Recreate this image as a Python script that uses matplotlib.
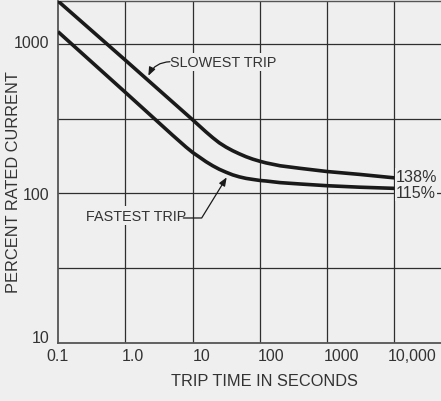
import numpy as np
import matplotlib
matplotlib.use("Agg")
import matplotlib.pyplot as plt
from matplotlib.transforms import ScaledTranslation

# ---- data ----
slowest_t = [0.1, 1, 10, 12.6, 15.8, 19.9, 24.9, 31.4, 39.4, 49.4, 62.1, 78.2, 100,
             123, 200, 400, 1000, 3000, 10000]
slowest_pct = [1940, 780, 311, 283, 258, 236, 218, 204, 193, 184, 176, 169.5, 164,
               160, 153, 147, 140, 134, 127]
fastest_t = [0.1, 1, 5, 8, 10, 12.6, 15.8, 19.9, 24.9, 31.4, 39.4, 49.4, 62.1, 78.2,
             100, 123, 200, 400, 1000, 3000, 10000]
fastest_pct = [1209, 475, 246, 204, 188, 175, 163, 153, 145, 138.5, 133, 129, 126, 124,
               122, 121, 118, 115.5, 112.5, 110, 108]

xtick_vals = [0.1, 1, 10, 100, 1000, 10000]
xtick_labels = ["0.1", "1.0", "10", "100", "1000", "10,000"]
ytick_vals = [10, 100, 1000]
ytick_labels = ["10", "100", "1000"]
ygrid_minor = [10 ** 1.5, 10 ** 2.5]
end_labels = ["138%", "115%"]
end_label_y = [130, 101.6]

# ---- style ----
BG = "#efefef"
GRID = "#2e2e2e"
CURVE = "#1a1a1a"
TXT = "#333333"
FONT = ["Liberation Sans", "DejaVu Sans"]
plt.rcParams["font.family"] = FONT

W, H = 441, 402
fig = plt.figure(figsize=(W / 100, H / 100), dpi=100, facecolor=BG)
left_px, right_px, top_px, bot_px = 58, 441, 2, 343.7
ax = fig.add_axes([left_px / W, 1 - bot_px / H, (right_px - left_px) / W, (bot_px - top_px) / H])
ax.set_facecolor(BG)
ax.set_xscale("log")
ax.set_yscale("log")
ax.set_xlim(0.1, 49100)
ax.set_ylim(10, 1941)

# grid lines
for xv in xtick_vals[1:]:
    ax.axvline(xv, color=GRID, lw=0.9, zorder=1)
for yv in ytick_vals[1:] + ygrid_minor:
    ax.axhline(yv, color=GRID, lw=0.9, zorder=1)

ax.set_xticks([])
ax.set_yticks([])
ax.xaxis.set_minor_locator(matplotlib.ticker.NullLocator())
ax.yaxis.set_minor_locator(matplotlib.ticker.NullLocator())
for s in ["left", "bottom"]:
    ax.spines[s].set_color("#555555")
    ax.spines[s].set_linewidth(1.3)
ax.spines["top"].set_color("#555555")
ax.spines["top"].set_linewidth(1.0)
ax.spines["right"].set_visible(False)

# curves
ax.plot(slowest_t, slowest_pct, color=CURVE, lw=2.6, solid_joinstyle="round",
        solid_capstyle="butt", zorder=3)
ax.plot(fastest_t, fastest_pct, color=CURVE, lw=2.6, solid_joinstyle="round",
        solid_capstyle="butt", zorder=3)

# tick labels (manual, to reproduce the offsets of the reference)
xoff_px = [-0.7, 8, 8.7, 10.7, 14, 17.3]
xtrans = ax.get_xaxis_transform()
for xv, lab, dx in zip(xtick_vals, xtick_labels, xoff_px):
    tr = xtrans + ScaledTranslation(dx / 100, -13 / 100, fig.dpi_scale_trans)
    ax.text(xv, 0, lab, transform=tr, ha="center", va="center", fontsize=11.5,
            color=TXT, clip_on=False)
yoff_px = [4.7, -0.7, 1.7]
ytrans = ax.get_yaxis_transform()
for yv, lab, dy in zip(ytick_vals, ytick_labels, yoff_px):
    tr = ytrans + ScaledTranslation(-8.5 / 100, dy / 100, fig.dpi_scale_trans)
    ax.text(0, yv, lab, transform=tr, ha="right", va="center", fontsize=11.5,
            color=TXT, clip_on=False)

fig.text(264.7 / W, 1 - 381.7 / H, "TRIP TIME IN SECONDS", ha="center", va="center",
         fontsize=11.8, color=TXT)
fig.text(13.3 / W, 1 - 181.7 / H, "PERCENT RATED CURRENT", ha="center", va="center",
         rotation=90, fontsize=11.8, color=TXT)

# end labels
for lab, yv in zip(end_labels, end_label_y):
    tr = ax.transData + ScaledTranslation(1.5 / 100, 0, fig.dpi_scale_trans)
    ax.text(10000, yv, lab, transform=tr, ha="left", va="center", fontsize=11.6,
            color=TXT, zorder=4,
            bbox=dict(boxstyle="square,pad=0.05", fc=BG, ec="none"))

# annotations
box = dict(boxstyle="square,pad=0.15", fc=BG, ec="none")
ax.text(4.61, 761, "SLOWEST TRIP", ha="left", va="center", fontsize=10.4, color=TXT,
        zorder=4, bbox=box)
ax.annotate("", xy=(2.2, 613), xytext=(4.61, 761),
            arrowprops=dict(arrowstyle="-|>,head_length=0.5,head_width=0.2",
                            connectionstyle="arc3,rad=0.3", color=CURVE, lw=0.9,
                            shrinkA=0, shrinkB=0, mutation_scale=10), zorder=4)

ax.text(8.1, 71, "FASTEST TRIP", ha="right", va="center", fontsize=10.4, color=TXT,
        zorder=4, bbox=box)
ax.annotate("", xy=(32.1, 128), xytext=(7.28, 68.4),
            arrowprops=dict(arrowstyle="-|>,head_length=0.5,head_width=0.2",
                            connectionstyle="angle,angleA=0,angleB=58.4,rad=0",
                            color=CURVE, lw=0.9, shrinkA=0, shrinkB=0, mutation_scale=10),
            zorder=4)

fig.savefig("out.png", dpi=100, facecolor=BG)
